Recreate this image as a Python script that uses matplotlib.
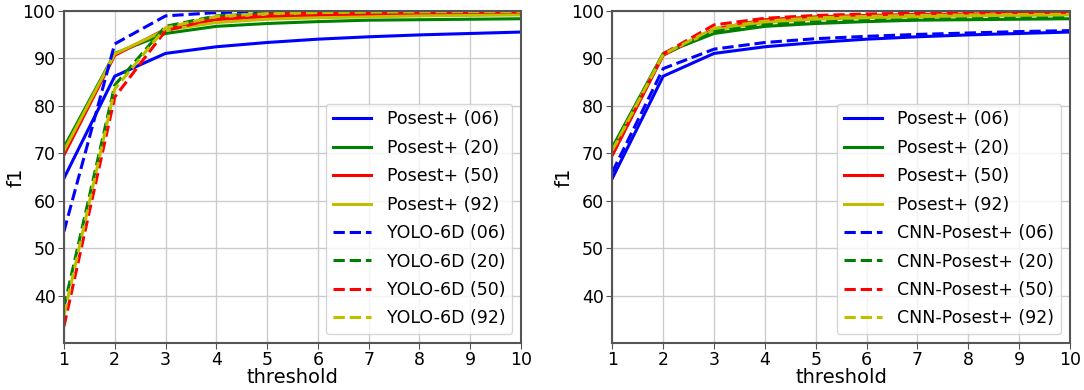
import matplotlib
matplotlib.use("Agg")
import matplotlib.pyplot as plt

thresholds = [1, 2, 3, 4, 5, 6, 7, 8, 9, 10]

posest_06 = [64.7, 86.2, 91.0, 92.4, 93.3, 94.0, 94.5, 94.9, 95.2, 95.5]
posest_20 = [71.2, 91.0, 95.2, 96.7, 97.3, 97.7, 98.0, 98.1, 98.2, 98.3]
posest_50 = [69.6, 90.6, 96.1, 98.1, 98.7, 99.0, 99.2, 99.3, 99.4, 99.45]
posest_92 = [70.5, 90.9, 95.9, 97.5, 98.2, 98.5, 98.7, 98.9, 99.0, 99.1]

yolo_06 = [53.5, 93.0, 98.9, 99.6, 99.85, 99.9, 99.95, 100.0, 100.0, 100.0]
yolo_20 = [37.5, 84.3, 96.7, 98.9, 99.4, 99.6, 99.7, 99.8, 99.8, 99.85]
yolo_50 = [33.5, 81.8, 95.8, 98.4, 99.2, 99.5, 99.6, 99.7, 99.75, 99.8]
yolo_92 = [35.8, 83.5, 96.4, 98.8, 99.4, 99.6, 99.7, 99.75, 99.8, 99.8]

cnn_06 = [66.0, 87.8, 91.9, 93.3, 94.1, 94.6, 95.0, 95.3, 95.6, 95.8]
cnn_20 = [71.0, 90.8, 95.6, 97.0, 97.6, 97.9, 98.1, 98.3, 98.4, 98.5]
cnn_50 = [69.6, 90.9, 97.0, 98.4, 99.0, 99.3, 99.5, 99.6, 99.65, 99.7]
cnn_92 = [70.6, 90.8, 96.3, 97.8, 98.5, 98.8, 99.0, 99.1, 99.2, 99.25]

labels_posest = ["Posest+ (06)", "Posest+ (20)", "Posest+ (50)", "Posest+ (92)"]
labels_yolo = ["YOLO-6D (06)", "YOLO-6D (20)", "YOLO-6D (50)", "YOLO-6D (92)"]
labels_cnn = ["CNN-Posest+ (06)", "CNN-Posest+ (20)", "CNN-Posest+ (50)", "CNN-Posest+ (92)"]
colors = ["#0000ff", "#008000", "#ff0000", "#bfbf00"]

xticks = [1, 2, 3, 4, 5, 6, 7, 8, 9, 10]
yticks = [40, 50, 60, 70, 80, 90, 100]

plt.rcParams['font.family'] = ['DejaVu Sans']
fs = 12.5
lfs = 14

fig = plt.figure(figsize=(10.84, 3.9), dpi=100)
ax1 = fig.add_axes([0.059, 0.1205, 0.4216, 0.8521])
ax2 = fig.add_axes([0.5649, 0.1205, 0.4222, 0.8521])

posest = [posest_06, posest_20, posest_50, posest_92]
panels = [
    (ax1, [yolo_06, yolo_20, yolo_50, yolo_92], labels_yolo),
    (ax2, [cnn_06, cnn_20, cnn_50, cnn_92], labels_cnn),
]

for ax, dashed, dlabels in panels:
    for vals, c, lab in zip(posest, colors, labels_posest):
        ax.plot(thresholds, vals, color=c, lw=2.2, linestyle='-', label=lab)
    for vals, c, lab in zip(dashed, colors, dlabels):
        ax.plot(thresholds, vals, color=c, lw=2.2, linestyle='--', label=lab)
    ax.set_xlim(1, 10)
    ax.set_ylim(30, 100)
    ax.set_xticks(xticks)
    ax.set_yticks(yticks)
    ax.tick_params(labelsize=fs, color='#555555', length=4, pad=2)
    ax.grid(True, color='#cccccc', lw=1)
    ax.set_axisbelow(True)
    for s in ax.spines.values():
        s.set_color('#555555')
        s.set_linewidth(1.5)
    ax.set_xlabel('threshold', fontsize=lfs, labelpad=-1)
    ax.set_ylabel('f1', fontsize=lfs)
    ax.yaxis.set_label_coords(-0.085, 0.5)
    ax.legend(loc='lower right', fontsize=fs, handlelength=2.2, labelspacing=0.6,
              borderaxespad=0.5, handletextpad=0.9)

fig.savefig('out.png', dpi=100)
